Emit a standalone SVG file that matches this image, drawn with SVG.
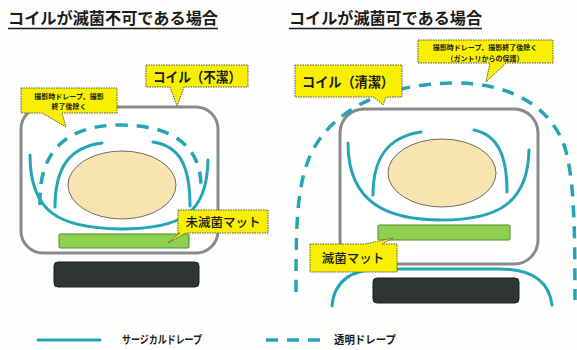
<svg xmlns="http://www.w3.org/2000/svg" width="577" height="350" viewBox="0 0 577 350">
  <defs>
    <style>
      .title { font-family: "Noto Sans CJK JP", "Noto Sans", sans-serif; font-weight: 700; font-size: 16px; fill: #1a1a1a; }
      .coil { fill: #ffffff; stroke: #8a8a8a; stroke-width: 3; }
      .body { fill: #f8e4b0; stroke: #4a4a4a; stroke-width: 0.8; }
      .mat { fill: #8fd04e; stroke: #4d8a2e; stroke-width: 1; }
      .base { fill: #2f3533; stroke: #1c1f1e; stroke-width: 1; }
      .surg { fill: none; stroke: #23a5b6; stroke-width: 3; stroke-linecap: round; }
      .clear { fill: none; stroke: #23a5b6; stroke-width: 3.5; stroke-dasharray: 12 9; }
      .call { fill: #f8f000; stroke: #555; stroke-width: 1; stroke-dasharray: 1.5 1; }
      .lbl { font-family: "Noto Sans CJK JP", sans-serif; font-weight: 700; font-size: 14px; fill: #1a1a1a; text-anchor: middle; }
      .small { font-family: "Noto Sans CJK JP", sans-serif; font-weight: 700; font-size: 7px; fill: #1a1a1a; text-anchor: middle; }
      .mattxt { font-family: "Noto Sans CJK JP", sans-serif; font-weight: 500; font-size: 12.5px; fill: #1a1a1a; text-anchor: middle; }
      .legend { font-family: "Noto Sans CJK JP", sans-serif; font-weight: 700; font-size: 11px; fill: #1a1a1a; }
    </style>
  </defs>

  <rect width="577" height="350" fill="#fefefc"/>

  <!-- headings -->
  <g id="title-left">
    <text class="title" x="8" y="24" textLength="210" lengthAdjust="spacingAndGlyphs">コイルが滅菌不可である場合</text>
    <line x1="8" y1="28.5" x2="218" y2="28.5" stroke="#1a1a1a" stroke-width="1.5"/>
  </g>
  <g id="title-right">
    <text class="title" x="289" y="24" textLength="193" lengthAdjust="spacingAndGlyphs">コイルが滅菌可である場合</text>
    <line x1="289" y1="28.5" x2="482" y2="28.5" stroke="#1a1a1a" stroke-width="1.5"/>
  </g>

  <!-- left: non-sterile coil -->
  <g id="coil-left">
    <rect class="coil" x="21" y="107" width="197" height="146" rx="22"/>
  </g>
  <g id="body-left">
    <ellipse class="body" cx="122" cy="185" rx="54" ry="34"/>
  </g>
  <g id="mat-left">
    <rect class="mat" x="59" y="234" width="130" height="14" rx="1"/>
  </g>
  <g id="base-left">
    <rect class="base" x="54" y="262" width="145" height="25" rx="4"/>
  </g>

  <!-- right: sterile coil -->
  <g id="coil-right">
    <rect class="coil" x="340" y="109" width="198" height="155" rx="24"/>
  </g>
  <g id="body-right">
    <ellipse class="body" cx="442" cy="173" rx="54" ry="34"/>
  </g>
  <g id="mat-right">
    <rect class="mat" x="378" y="225" width="132" height="15" rx="1"/>
  </g>
  <g id="base-right">
    <rect class="base" x="373" y="278" width="146" height="25" rx="4"/>
  </g>

  <!-- drapes -->
  <g id="connectors">
    <!-- left surgical drapes -->
    <path class="surg" d="M30,155 C30,213 60,228 120,229 C183,229 207,213 208,160"/>
    <path class="surg" d="M102,143 C70,147 55,167 55,207"/>
    <path class="surg" d="M153,142 C180,146 190,166 190,206"/>
    <!-- left transparent drape -->
    <path class="clear" d="M40,205 C38,150 68,125 120,125 C172,125 203,145 201,192"/>
    <!-- right surgical drapes -->
    <path class="surg" d="M348,143 C348,205 390,220 442,220 C495,220 528,205 529,150"/>
    <path class="surg" d="M421,132 C386,137 373,160 373,195"/>
    <path class="surg" d="M474,130 C498,135 507,156 507,192"/>
    <path class="surg" d="M332,306 C334,282 350,269 382,269 L500,269 C532,269 549,282 552,305"/>
    <!-- right transparent drape -->
    <path class="clear" d="M296,292 C296,240 296,200 305,170 C320,115 380,83 455,83 C520,83 560,115 568,160 C574,190 575,230 575,300"/>
  </g>

  <!-- callouts -->
  <g id="note-left">
    <path class="call" d="M21,88 H117 V113 H62 L66,127 L42,113 H21 Z"/>
    <text class="small" x="69" y="98.5">撮影時ドレープ、撮影</text>
    <text class="small" x="69" y="109">終了後除く</text>
  </g>
  <g id="label-coil-left">
    <path class="call" d="M146,65 H248 V87 H184 L177,106 L170,87 H146 Z"/>
    <text class="lbl" x="197" y="82" textLength="88" lengthAdjust="spacingAndGlyphs">コイル（不潔）</text>
  </g>
  <g id="label-mat-left">
    <path class="call" d="M178,210 H268 V233 H186 L168,243 L180,233 H178 Z"/>
    <text class="mattxt" x="223" y="227">未滅菌マット</text>
  </g>
  <g id="note-right">
    <path class="call" d="M418,40 H553 V63 H506 L486,82 L490,63 H418 Z"/>
    <text class="small" x="485" y="50">撮影時ドレープ、撮影終了後除く</text>
    <text class="small" x="485" y="60.5">（ガントリからの保護）</text>
  </g>
  <g id="label-coil-right">
    <path class="call" d="M295,65 H402 V97 H386 L383,105 L374,97 H295 Z"/>
    <text class="lbl" x="348" y="87" textLength="92" lengthAdjust="spacingAndGlyphs">コイル（清潔）</text>
  </g>
  <g id="label-mat-right">
    <path class="call" d="M310,244 H365 L393,238 L382,244 H397 V272 H310 Z"/>
    <text class="mattxt" x="353" y="263">滅菌マット</text>
  </g>

  <!-- legend -->
  <g id="legend">
    <line class="surg" x1="38" y1="340" x2="100" y2="340" stroke-linecap="butt"/>
    <text class="legend" x="122" y="344" textLength="80" lengthAdjust="spacingAndGlyphs">サージカルドレープ</text>
    <line class="clear" x1="266" y1="340" x2="325" y2="340"/>
    <text class="legend" x="334" y="344" textLength="62" lengthAdjust="spacingAndGlyphs">透明ドレープ</text>
  </g>
</svg>
